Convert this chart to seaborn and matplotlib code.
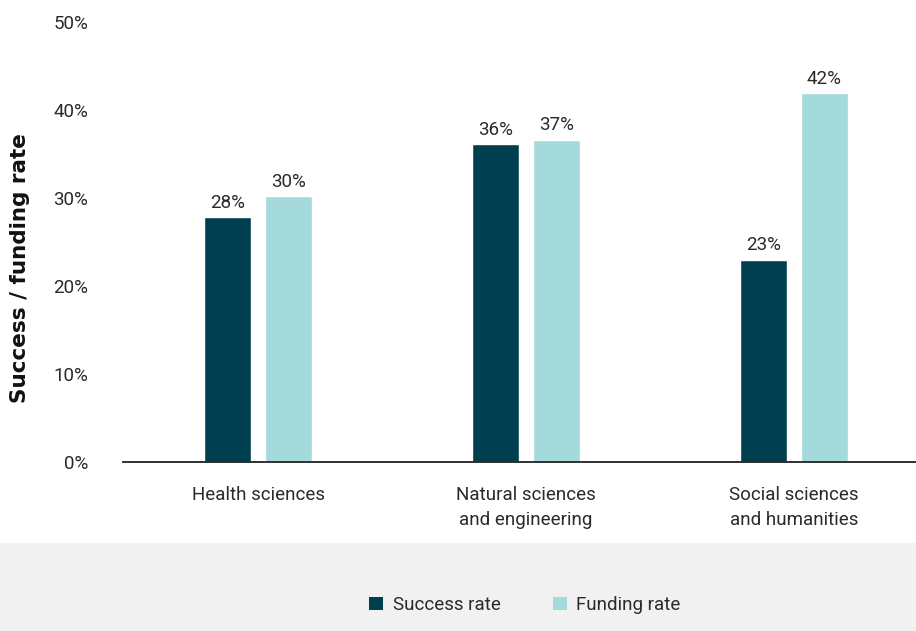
import matplotlib
matplotlib.use("Agg")
import matplotlib.pyplot as plt
import seaborn as sns
import pandas as pd
from matplotlib.patches import Rectangle, Patch

categories = ["Health sciences", "Natural sciences\nand engineering", "Social sciences\nand humanities"]
series = ["Success rate", "Funding rate"]
success = [27.8, 36.1, 23.0]
funding = [30.2, 36.6, 41.9]
yticks = [0, 10, 20, 30, 40, 50]
colors = ["#003f4f", "#a5dadd"]

df = pd.DataFrame({
    "category": categories * 2,
    "series": [series[0]] * 3 + [series[1]] * 3,
    "value": success + funding,
})

sns.set_theme(style="white")
plt.rcParams["font.family"] = ["Roboto", "DejaVu Sans"]
text_color = "#2a2a2a"

fig = plt.figure(figsize=(9.16, 6.31), dpi=100)
# gray legend band
fig.patches.append(Rectangle((0, 0), 1, 88 / 631, transform=fig.transFigure,
                             facecolor="#f1f1f1", edgecolor="none", zorder=0))

ax = fig.add_axes([123 / 916, (631 - 462) / 631, 1 - 123 / 916, 440 / 631])
ax.patch.set_alpha(0)
sns.barplot(data=df, x="category", y="value", hue="series", palette=colors,
            width=0.455, gap=0.24, ax=ax, legend=False, saturation=1)

for cont in ax.containers:
    labels = [f"{round(v.get_height()):.0f}%" for v in cont]
    ax.bar_label(cont, labels=labels, padding=4, fontsize=13.5, color=text_color)

ax.set_ylim(0, 50)
ax.set_xlim(-0.504, 2.455)
ax.set_yticks(yticks)
ax.set_yticklabels([f"{t}%" for t in yticks], fontsize=13.5, color=text_color)
ax.tick_params(axis="y", length=0, pad=25)
ax.tick_params(axis="x", length=0, pad=17, labelsize=13.5, labelcolor=text_color)
for lab in ax.get_xticklabels():
    lab.set_linespacing(1.55)
ax.set_xlabel("")
ax.set_ylabel("Success / funding rate", fontsize=15.5, fontweight="bold", color="#111111",
              family=["DejaVu Sans"])
ax.yaxis.set_label_coords((30 - 123) / 793, (462 - 268) / 440)
for s in ["top", "right", "left"]:
    ax.spines[s].set_visible(False)
ax.spines["bottom"].set_color("#222222")
ax.spines["bottom"].set_linewidth(1.3)

handles = [Patch(facecolor=c, edgecolor="none") for c in colors]
leg = fig.legend(handles, series, loc="center", bbox_to_anchor=(525 / 916, (631 - 605) / 631),
                 ncol=2, frameon=False, fontsize=13.5, handlelength=0.75, handleheight=0.75,
                 handletextpad=0.5, columnspacing=2.8)
for t in leg.get_texts():
    t.set_color(text_color)

fig.savefig("out.png", dpi=100)
